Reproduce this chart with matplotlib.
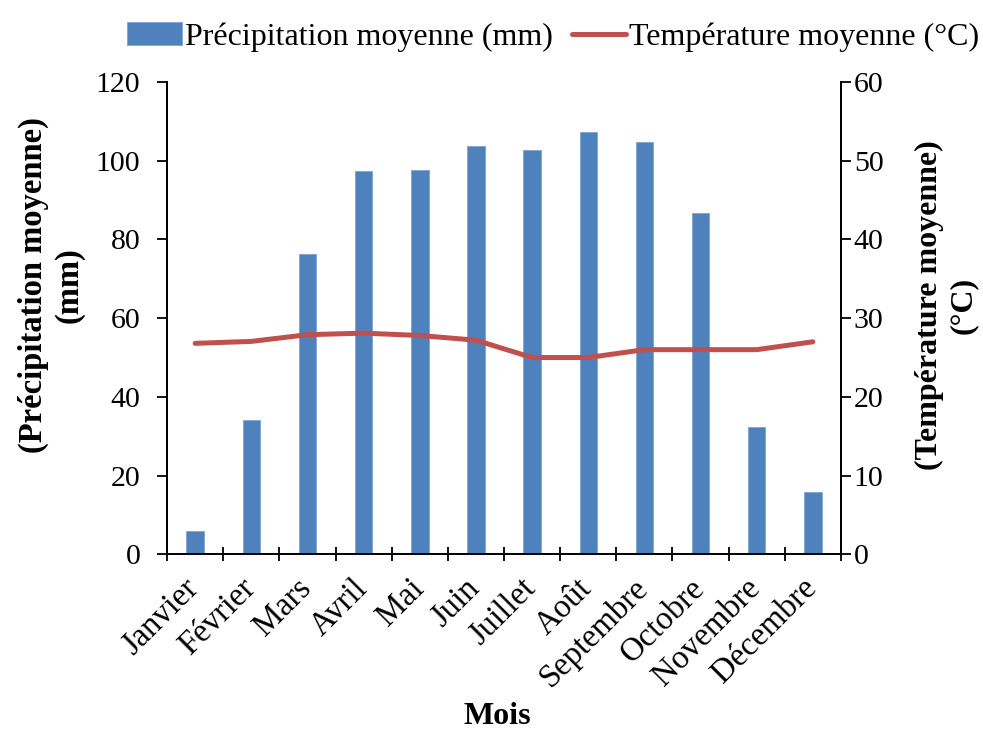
import numpy as np
import matplotlib
matplotlib.use("Agg")
import matplotlib.pyplot as plt
import matplotlib.transforms as mtransforms

plt.rcParams['font.family'] = ['Liberation Serif', 'DejaVu Serif']

mois = ["Janvier", "Février", "Mars", "Avril", "Mai", "Juin", "Juillet",
        "Août", "Septembre", "Octobre", "Novembre", "Décembre"]
precipitation = [5.9, 34.1, 76.2, 97.5, 97.6, 103.7, 102.7, 107.3, 104.7, 86.8, 32.4, 15.8]
temperature = [26.8, 27.05, 27.9, 28.1, 27.8, 27.2, 25.0, 25.0, 26.0, 26.0, 26.0, 27.0]

fig = plt.figure(figsize=(9.83, 7.29), dpi=100)
ax = fig.add_axes([0.170, 0.2396, 0.6855, 0.6479])
ax2 = ax.twinx()

x = np.arange(len(mois))
bars = ax.bar(x, precipitation, width=0.31, color="#4F81BD", edgecolor="#7FA3D1",
              linewidth=0.6, zorder=2)
line, = ax2.plot(x, temperature, color="#C0504D", linewidth=3.6,
                 solid_capstyle="round")

ax.set_xlim(-0.5, len(mois) - 0.5)
ax.set_ylim(0, 120)
ax.set_yticks(range(0, 121, 20))
ax2.set_ylim(0, 60)
ax2.set_yticks(range(0, 61, 10))

# labels at month centres, ticks on the boundaries
ax.set_xticks(x)
ax.set_xticklabels(mois, rotation=45, ha="right")
ax.set_xticks(np.arange(-0.5, len(mois), 1), minor=True)
ax.tick_params(axis="x", which="major", length=0, labelsize=23.5, pad=9)
ax.tick_params(axis="x", which="minor", direction="inout", length=10, width=1.3)
ax.tick_params(axis="y", direction="out", length=7.2, width=1.3, labelsize=21.5, pad=12)
ax2.tick_params(axis="y", direction="out", length=7.2, width=1.3, labelsize=21.5, pad=2)

# nudge month labels right/down like the original
shift = mtransforms.ScaledTranslation(10 / 100, -6 / 100, fig.dpi_scale_trans)
for lab in ax.get_xticklabels():
    lab.set_transform(lab.get_transform() + shift)

for a in (ax, ax2):
    a.spines["top"].set_visible(False)
    for s in ("left", "right", "bottom"):
        a.spines[s].set_linewidth(1.3)
ax.spines["bottom"].set_color("#333333")

ax.set_ylabel("(Précipitation moyenne)\n(mm)", fontsize=23.5, fontweight="bold")
ax.yaxis.set_label_coords(-0.122, 0.57)
ax2.set_ylabel("(Température moyenne)\n(°C)", fontsize=23, fontweight="bold", rotation=90)
ax2.yaxis.set_label_coords(1.11, 0.527)
ax.set_xlabel("Mois", fontsize=23, fontweight="bold")
ax.xaxis.set_label_coords(0.49, -0.312)

fig.legend([bars, line], ["Précipitation moyenne (mm)", "Température moyenne (°C)"],
           loc="upper center", bbox_to_anchor=(0.563, 1.0), ncol=2, frameon=False,
           fontsize=23, handlelength=1.7, handletextpad=0.1, columnspacing=0.6,
           borderpad=0.2)

fig.savefig("out.png", dpi=100)
